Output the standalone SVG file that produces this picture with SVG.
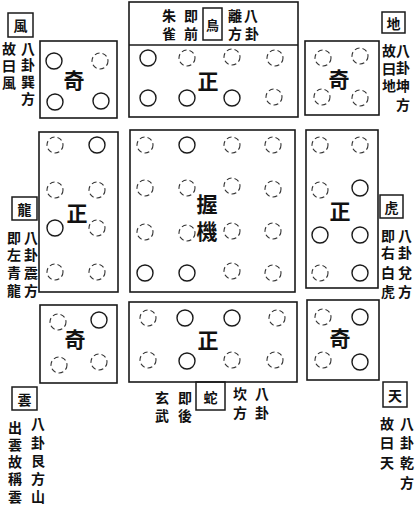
<svg xmlns="http://www.w3.org/2000/svg" width="419" height="507" viewBox="0 0 419 507">
<style>
.box{fill:#fff;stroke:#1a1a1a;stroke-width:1.6}
.lbl{fill:none;stroke:#1a1a1a;stroke-width:1.5}
.s{fill:none;stroke:#1a1a1a;stroke-width:1.4}
.d{fill:none;stroke:#333;stroke-width:1.1;stroke-dasharray:5 3}
.big{font-family:"Noto Sans CJK TC","Noto Sans CJK SC",sans-serif;font-size:21px;font-weight:bold;fill:#111;text-anchor:middle;dominant-baseline:central}
.t{font-family:"Noto Sans CJK TC","Noto Sans CJK SC",sans-serif;font-size:14px;font-weight:bold;fill:#111;text-anchor:middle;dominant-baseline:central}
</style>
<rect width="419" height="507" fill="#fff"/>

<g id="feng">
<rect class="lbl" x="8" y="13" width="25" height="24"/>
<text class="t" x="20.5" y="25">風</text>
<text class="t"><tspan x="28" y="48">八</tspan><tspan x="28" y="64">卦</tspan><tspan x="28" y="81">巽</tspan><tspan x="28" y="98">方</tspan></text>
<text class="t"><tspan x="9" y="48">故</tspan><tspan x="9" y="65">曰</tspan><tspan x="9" y="82">風</tspan></text>
</g>

<g id="tl">
<rect class="box" x="40" y="41" width="77" height="77"/>
<circle class="s" cx="54" cy="61" r="8"/><circle class="d" cx="100" cy="61" r="8"/>
<circle class="s" cx="55" cy="102" r="8"/><circle class="s" cx="101" cy="101" r="8"/>
<text class="big" x="74" y="79">奇</text>
</g>

<g id="tm">
<rect class="box" x="129" y="2" width="169" height="115"/>
<line x1="129" y1="45" x2="298" y2="45" stroke="#1a1a1a" stroke-width="1.5"/>
<text class="t"><tspan x="251" y="15">八</tspan><tspan x="252" y="33">卦</tspan></text>
<text class="t"><tspan x="235" y="15">離</tspan><tspan x="235" y="33">方</tspan></text>
<rect class="lbl" x="203" y="8" width="19" height="32" stroke-width="1.1"/>
<text class="t" x="212.5" y="24" style="font-size:13px">鳥</text>
<text class="t"><tspan x="191" y="15">即</tspan><tspan x="191" y="33">前</tspan></text>
<text class="t"><tspan x="169" y="15">朱</tspan><tspan x="169" y="33">雀</tspan></text>
<circle class="s" cx="148" cy="58" r="8"/><circle class="d" cx="187" cy="58" r="8"/><circle class="d" cx="232" cy="57" r="8"/><circle class="d" cx="275" cy="58" r="8"/>
<circle class="s" cx="148" cy="98" r="8"/><circle class="s" cx="187" cy="98" r="8"/><circle class="s" cx="232" cy="98" r="8"/><circle class="d" cx="274" cy="97" r="8"/>
<text class="big" x="208" y="80">正</text>
</g>

<g id="tr">
<rect class="box" x="305" y="41" width="74" height="74"/>
<circle class="d" cx="323" cy="58" r="8"/><circle class="d" cx="360" cy="56" r="8"/>
<circle class="d" cx="322" cy="97" r="8"/><circle class="d" cx="360" cy="98" r="8"/>
<text class="big" x="339" y="78">奇</text>
</g>

<g id="di">
<rect class="lbl" x="382" y="12" width="23" height="21"/>
<text class="t" x="393.5" y="22.5">地</text>
<text class="t"><tspan x="403" y="50">八</tspan><tspan x="403" y="67">卦</tspan><tspan x="403" y="85">坤</tspan><tspan x="403" y="104">方</tspan></text>
<text class="t"><tspan x="389" y="50">故</tspan><tspan x="389" y="68">曰</tspan><tspan x="389" y="85">地</tspan></text>
</g>

<g id="ml">
<rect class="box" x="39" y="132" width="79" height="160"/>
<circle class="d" cx="55" cy="145" r="8"/><circle class="s" cx="97" cy="145" r="8"/>
<circle class="d" cx="55" cy="190" r="8"/><circle class="d" cx="97" cy="190" r="8"/>
<circle class="s" cx="55" cy="228" r="8"/><circle class="d" cx="97" cy="228" r="8"/>
<circle class="d" cx="55" cy="272" r="8"/><circle class="d" cx="97" cy="272" r="8"/>
<text class="big" x="77" y="212">正</text>
</g>

<g id="long">
<rect class="lbl" x="12" y="197" width="25" height="23"/>
<text class="t" x="24.5" y="208.5">龍</text>
<text class="t"><tspan x="31" y="237">八</tspan><tspan x="31" y="254">卦</tspan><tspan x="31" y="272">震</tspan><tspan x="31" y="290">方</tspan></text>
<text class="t"><tspan x="14" y="237">即</tspan><tspan x="14" y="254">左</tspan><tspan x="14" y="272">青</tspan><tspan x="14" y="290">龍</tspan></text>
</g>

<g id="center">
<rect class="box" x="130" y="130" width="165" height="162"/>
<circle class="d" cx="145" cy="145" r="8"/><circle class="s" cx="187" cy="145" r="8"/><circle class="d" cx="232" cy="145" r="8"/><circle class="d" cx="273" cy="145" r="8"/>
<circle class="d" cx="145" cy="188" r="8"/><circle class="d" cx="187" cy="188" r="8"/><circle class="d" cx="232" cy="186" r="8"/><circle class="d" cx="273" cy="189" r="8"/>
<circle class="d" cx="145" cy="232" r="8"/><circle class="d" cx="187" cy="233" r="8"/><circle class="d" cx="232" cy="231" r="8"/><circle class="d" cx="273" cy="231" r="8"/>
<circle class="s" cx="145" cy="273" r="8"/><circle class="s" cx="187" cy="273" r="8"/><circle class="d" cx="232" cy="271" r="8"/><circle class="d" cx="273" cy="273" r="8"/>
<text class="big"><tspan x="207" y="203">握</tspan><tspan x="207" y="230">機</tspan></text>
</g>

<g id="mr">
<rect class="box" x="306" y="130" width="72" height="158"/>
<circle class="d" cx="320" cy="145" r="8"/><circle class="d" cx="360" cy="145" r="8"/>
<circle class="d" cx="320" cy="190" r="8"/><circle class="s" cx="360" cy="188" r="8"/>
<circle class="s" cx="320" cy="235" r="8"/><circle class="s" cx="360" cy="235" r="8"/>
<circle class="d" cx="320" cy="273" r="8"/><circle class="s" cx="360" cy="273" r="8"/>
<text class="big" x="340" y="210">正</text>
</g>

<g id="hu">
<rect class="lbl" x="380" y="195" width="23" height="23"/>
<text class="t" x="391.5" y="206.5">虎</text>
<text class="t"><tspan x="405" y="235">八</tspan><tspan x="405" y="252">卦</tspan><tspan x="405" y="272">兌</tspan><tspan x="405" y="291">方</tspan></text>
<text class="t"><tspan x="388" y="235">即</tspan><tspan x="388" y="252">右</tspan><tspan x="388" y="272">白</tspan><tspan x="388" y="291">虎</tspan></text>
</g>

<g id="bl">
<rect class="box" x="40" y="305" width="77" height="78"/>
<circle class="d" cx="58" cy="322" r="8"/><circle class="s" cx="99" cy="320" r="8"/>
<circle class="d" cx="59" cy="365" r="8"/><circle class="d" cx="99" cy="362" r="8"/>
<text class="big" x="75" y="338">奇</text>
</g>

<g id="yun">
<rect class="lbl" x="12" y="387" width="25" height="23"/>
<text class="t" x="24.5" y="398.5">雲</text>
<text class="t"><tspan x="38" y="423">八</tspan><tspan x="38" y="442">卦</tspan><tspan x="38" y="460">艮</tspan><tspan x="38" y="478">方</tspan><tspan x="38" y="496">山</tspan></text>
<text class="t"><tspan x="15" y="427">出</tspan><tspan x="15" y="444">雲</tspan><tspan x="15" y="461">故</tspan><tspan x="15" y="478">稱</tspan><tspan x="15" y="496">雲</tspan></text>
</g>

<g id="bm">
<rect class="box" x="129" y="302" width="168" height="80"/>
<circle class="d" cx="148" cy="318" r="8"/><circle class="s" cx="185" cy="318" r="8"/><circle class="s" cx="232" cy="318" r="8"/><circle class="d" cx="277" cy="318" r="8"/>
<circle class="d" cx="148" cy="360" r="8"/><circle class="s" cx="187" cy="361" r="8"/><circle class="d" cx="232" cy="360" r="8"/><circle class="d" cx="275" cy="360" r="8"/>
<text class="big" x="208" y="339">正</text>
</g>

<g id="she">
<rect class="lbl" x="196" y="382" width="29" height="28"/>
<text class="t" x="210.5" y="397">蛇</text>
<text class="t"><tspan x="262" y="393">八</tspan><tspan x="262" y="412">卦</tspan></text>
<text class="t"><tspan x="240" y="393">坎</tspan><tspan x="240" y="412">方</tspan></text>
<text class="t"><tspan x="185" y="397">即</tspan><tspan x="185" y="415">後</tspan></text>
<text class="t"><tspan x="162" y="397">玄</tspan><tspan x="162" y="415">武</tspan></text>
</g>

<g id="br">
<rect class="box" x="307" y="300" width="72" height="80"/>
<circle class="d" cx="323" cy="317" r="8"/><circle class="s" cx="360" cy="317" r="8"/>
<circle class="d" cx="323" cy="360" r="8"/><circle class="s" cx="360" cy="362" r="8"/>
<text class="big" x="340" y="337">奇</text>
</g>

<g id="tian">
<rect class="lbl" x="383" y="382" width="24" height="25"/>
<text class="t" x="395" y="394.5">天</text>
<text class="t"><tspan x="407" y="423">八</tspan><tspan x="407" y="442">卦</tspan><tspan x="407" y="462">乾</tspan><tspan x="407" y="482">方</tspan></text>
<text class="t"><tspan x="387" y="423">故</tspan><tspan x="387" y="442">曰</tspan><tspan x="387" y="462">天</tspan></text>
</g>

<g id="connectors"></g>
</svg>
